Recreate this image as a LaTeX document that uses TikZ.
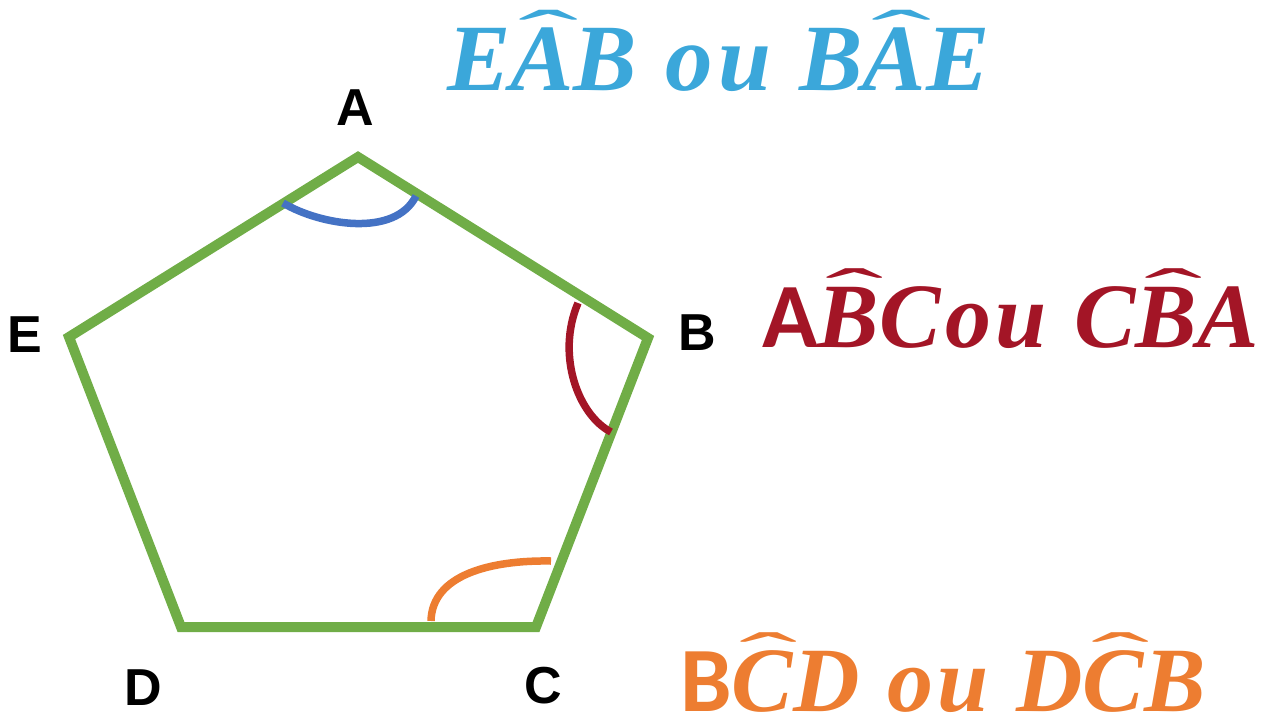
\documentclass[tikz,border=0pt]{standalone}
\usepackage{fontspec}
\setmainfont{Liberation Serif}
\newfontfamily\labfont{Liberation Sans}
\newfontfamily\calfont{Carlito}
\newcommand{\vhat}[1]{\ooalign{#1\cr\hidewidth\kern0.14em\raisebox{0.36em}{\scalebox{1.9}[0.7]{\mdseries\upshape\char"02C6}}\hidewidth\cr}}

\definecolor{pentagreen}{HTML}{70AD47}
\definecolor{arcblue}{HTML}{4472C4}
\definecolor{arcred}{HTML}{A31526}
\definecolor{arcorange}{HTML}{ED7D31}
\definecolor{textblue}{HTML}{3BA7DA}

\tikzset{
  side/.style={draw=pentagreen, line width=10pt, line join=miter},
  vlabel/.style={font=\labfont\bfseries\fontsize{52}{60}\selectfont, inner sep=0pt},
  angarc/.style={line width=7.5pt},
  angtext/.style={anchor=base west, inner sep=0pt,
    font=\bfseries\itshape\fontsize{#1}{100}\selectfont\addfontfeature{LetterSpace=5}},
  angtext/.default=92
}

\begin{document}
\begin{tikzpicture}[x=1pt, y=-1pt]
  \useasboundingbox (0,0) rectangle (1283,717);

  % vertices of the pentagon
  \foreach \n/\x/\y in {A/358/157, B/648/338, C/536/627, D/181/627, E/69/337}
    \coordinate (\n) at (\x,\y);
  \draw[side] (A) -- (B) -- (C) -- (D) -- (E) -- cycle;

  % vertex labels
  \foreach \n/\x/\y in {A/355/108, B/697/333, C/543/686, D/143/688, E/25/335}
    \node[vlabel] (l\n) at (\x,\y) {\n};

  % angle marks
  \draw[angarc, arcblue] (283,203) .. controls (320,225) and (395,238) .. (416,196);
  \draw[angarc, arcred] (578,303) .. controls (556,355) and (578,415) .. (611,432);
  \draw[angarc, arcorange] (431,621) .. controls (432,575) and (490,560) .. (551,561);

  % angle names
  \node[angtext=95, textblue] (tA) at (447,91) {E\vhat{A}B ou B\vhat{A}E};
  \node[angtext, arcred] (tB) at (762,347) {{\calfont\upshape A}\vhat{B}Cou C\vhat{B}A};
  \node[angtext, arcorange] (tC) at (680,711) {{\calfont\upshape B}\vhat{C}D ou D\vhat{C}B};
\end{tikzpicture}
\end{document}
